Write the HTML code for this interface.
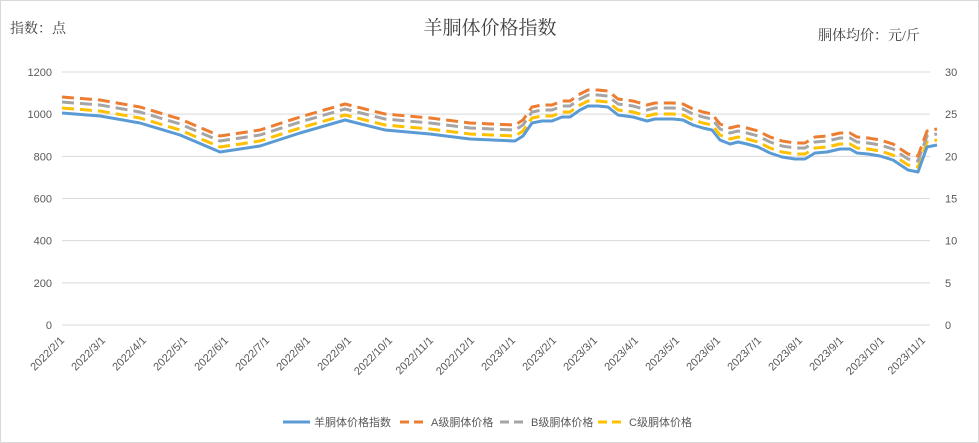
<!DOCTYPE html>
<html><head><meta charset="utf-8"><style>
html,body{margin:0;padding:0;background:#fff}
svg{display:block;font-family:"Liberation Sans","Noto Sans CJK SC",sans-serif}
.t{font-family:"Liberation Serif","Noto Serif CJK SC",serif}
</style></head><body>
<svg id="s" width="979" height="443" viewBox="0 0 979 443" xmlns="http://www.w3.org/2000/svg">
<rect x="0.5" y="0.5" width="978" height="442" fill="#fff" stroke="#d9d9d9"/>
<text class="t" x="490" y="34" font-size="19" text-anchor="middle" fill="#404040">羊胴体价格指数</text>
<text class="t" x="10" y="33" font-size="14" fill="#404040">指数：点</text>
<text class="t" x="818" y="40" font-size="14" fill="#404040">胴体均价：元/斤</text>
<g id="grid" stroke="#d9d9d9" stroke-width="1"></g>
<g id="labs" font-size="11" fill="#595959"></g>
<g id="series" fill="none" stroke-width="3" stroke-linejoin="round"></g>
<g font-size="11" fill="#595959">
<line x1="283" y1="422" x2="310" y2="422" stroke="#5b9bd5" stroke-width="3"/><text x="314" y="426">羊胴体价格指数</text>
<line x1="400" y1="422" x2="427" y2="422" stroke="#ed7d31" stroke-width="3" stroke-dasharray="9,5"/><text x="431" y="426">A级胴体价格</text>
<line x1="500" y1="422" x2="527" y2="422" stroke="#a5a5a5" stroke-width="3" stroke-dasharray="9,5"/><text x="531" y="426">B级胴体价格</text>
<line x1="598" y1="422" x2="625" y2="422" stroke="#ffc000" stroke-width="3" stroke-dasharray="9,5"/><text x="629" y="426">C级胴体价格</text>
</g>
</svg>
<script>
var NS="http://www.w3.org/2000/svg";
function el(p,t,a,txt){var e=document.createElementNS(NS,t);for(var k in a)e.setAttribute(k,a[k]);if(txt!=null)e.textContent=txt;p.appendChild(e);return e;}
var g=document.getElementById('grid'),L=document.getElementById('labs'),S=document.getElementById('series');
for(var i=0;i<=6;i++){var y=325-i*42.17;el(g,'line',{x1:62,x2:930,y1:y,y2:y});
el(L,'text',{x:52,y:y+4,'text-anchor':'end'},String(i*200));
el(L,'text',{x:945,y:y+4},String(i*5));}
var months=["2022/2/1","2022/3/1","2022/4/1","2022/5/1","2022/6/1","2022/7/1","2022/8/1","2022/9/1","2022/10/1","2022/11/1","2022/12/1","2023/1/1","2023/2/1","2023/3/1","2023/4/1","2023/5/1","2023/6/1","2023/7/1","2023/8/1","2023/9/1","2023/10/1","2023/11/1"];
for(var m=0;m<months.length;m++){var x=65+41*m;el(L,'text',{x:x,y:341,'text-anchor':'end',transform:'rotate(-45 '+x+' 341)'},months[m]);}
var b=[[62,113],[100,116],[140,123],[180,135],[220,152],[260,146],[300,133],[345,120],[385,130],[430,134],[470,139],[515,141],[523,136],[532,123],[542,121],[552,121],[562,117],[570,117],[580,110],[588,106],[598,106],[608,107],[618,115],[633,117],[647,121],[655,119],[665,119],[673,119],[683,120],[693,125],[703,128],[712,130],[720,140],[730,144],[738,142],[747,144],[758,147],[770,153],[782,157],[795,159],[805,159],[815,153],[827,152],[840,149],[850,149],[857,153],[868,154],[880,156],[893,160],[908,170],[918,172],[927,147],[937,145]];
function pts(o){return b.map(function(p){return p[0]+','+(p[1]+o)}).join(' ');}
el(S,'polyline',{points:pts(-5),stroke:'#ffc000','stroke-dasharray':'12,6'});
el(S,'polyline',{points:pts(-11),stroke:'#a5a5a5','stroke-dasharray':'12,6'});
el(S,'polyline',{points:pts(-16),stroke:'#ed7d31','stroke-dasharray':'12,6'});
el(S,'polyline',{points:pts(0),stroke:'#5b9bd5'});
</script>
</body></html>
